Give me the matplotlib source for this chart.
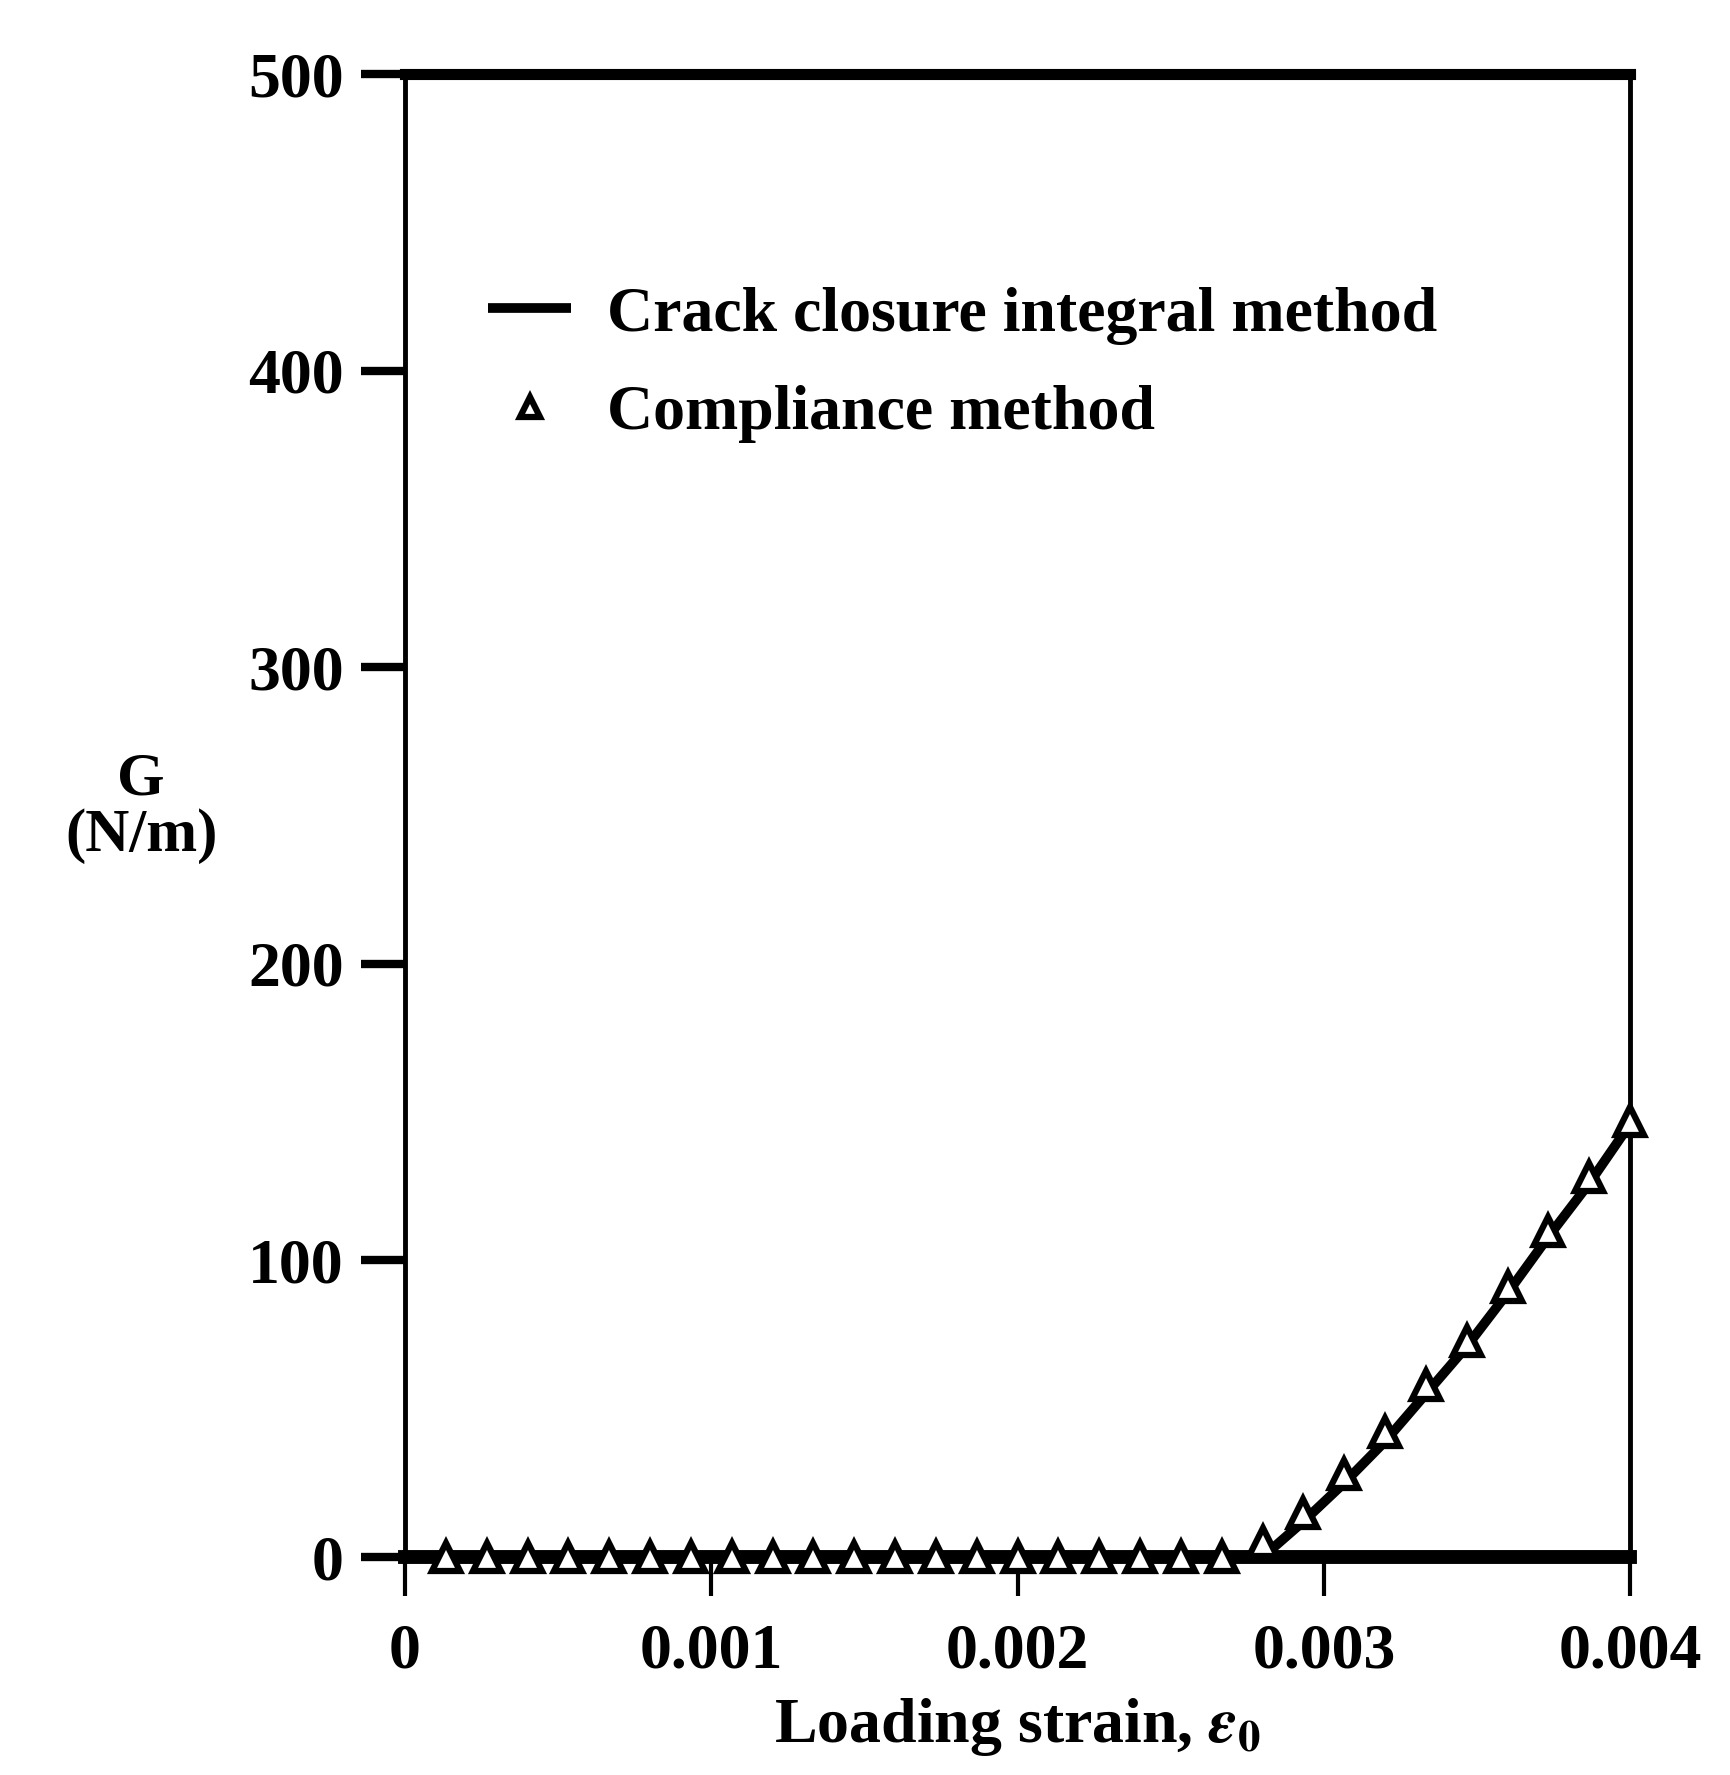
import matplotlib
matplotlib.use('Agg')
import matplotlib.pyplot as plt

# loading strain steps (0.004 / 30)
strain = [i * 0.004 / 30 for i in range(1, 31)]

# crack closure integral method (line)
g_crack = [0] * 21 + [12, 25, 39, 55, 71, 89, 108, 126, 146]

# compliance method (triangles)
g_comp = [0] * 20 + [5, 15, 28, 42, 58, 73, 91, 110, 128, 147]

x_ticks = [0, 0.001, 0.002, 0.003, 0.004]
x_labels = ['0', '0.001', '0.002', '0.003', '0.004']
y_ticks = [0, 100, 200, 300, 400, 500]

plt.rcParams['font.family'] = ['Liberation Serif', 'DejaVu Serif']
plt.rcParams['font.weight'] = 'bold'
plt.rcParams['mathtext.fontset'] = 'stix'

fig = plt.figure(figsize=(17.31, 17.75), dpi=100)
ax = fig.add_axes([0.234, 0.1228, 0.7077, 0.8355])

ax.plot([0] + strain, [0] + g_crack, 'k-', lw=7, solid_capstyle='butt',
        label='Crack closure integral method', clip_on=False, zorder=3)
ax.plot(strain, g_comp, 'k^', ms=20, mfc='white', mec='black', mew=4.5,
        label='Compliance method', clip_on=False, zorder=4)

ax.set_xlim(0, 0.004)
ax.set_ylim(0, 500)
ax.set_xticks(x_ticks)
ax.set_xticklabels(x_labels)
ax.set_yticks(y_ticks)

ax.spines['top'].set_linewidth(8)
ax.spines['bottom'].set_linewidth(10)
ax.spines['left'].set_linewidth(3.5)
ax.spines['right'].set_linewidth(3.5)

ax.tick_params(axis='y', direction='out', length=32, width=6, pad=12, labelsize=46)
ax.tick_params(axis='x', direction='out', length=28, width=3, pad=20, labelsize=46)

ax.set_xlabel('Loading strain, $\\epsilon_0$', fontsize=46, fontweight='bold', labelpad=10)

fig.text(0.0815, 0.545, 'G\n(N/m)', fontsize=44, fontweight='bold',
         ha='center', va='center', linespacing=1.0)

ax.legend(loc='upper left', bbox_to_anchor=(0.068, 0.857), frameon=False,
          fontsize=46, handlelength=1.3, handletextpad=0.55, labelspacing=0.62,
          borderpad=0, borderaxespad=0, markerscale=0.75)

fig.savefig('out.png', dpi=100)
